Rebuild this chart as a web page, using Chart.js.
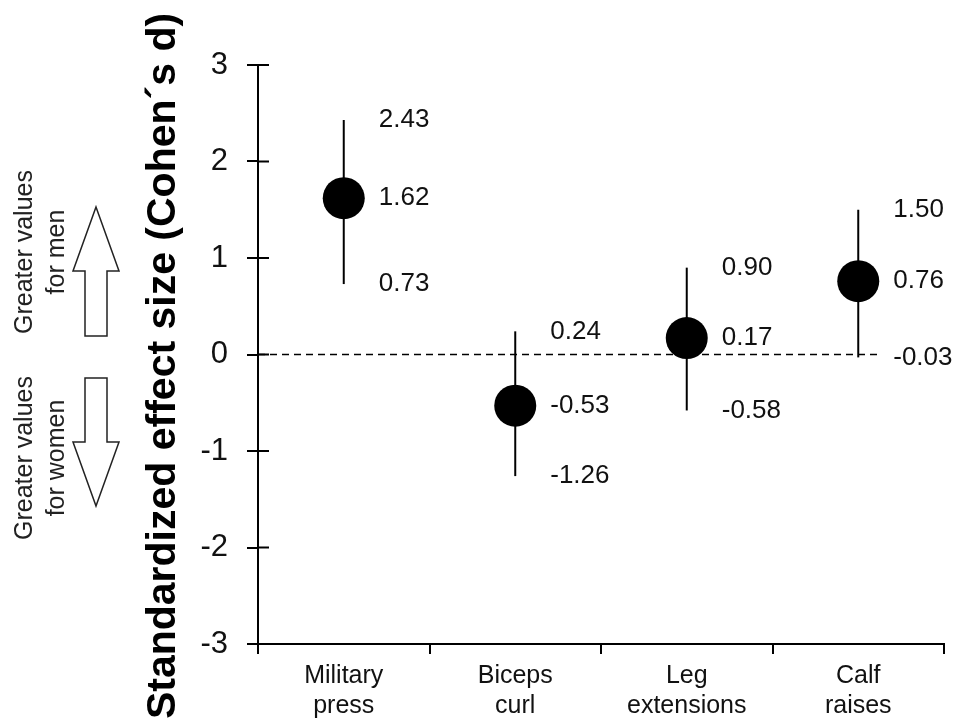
<!DOCTYPE html>
<html>
<head>
<meta charset="utf-8">
<script src="https://cdn.jsdelivr.net/npm/chart.js@4"></script>
<style>
  body { margin: 0; background: #fff; }
  #wrap { width: 965px; height: 727px; position: relative; }
</style>
</head>
<body>
<div id="wrap"><canvas id="effectChart"></canvas></div>
<script>
// exercise names (two lines each)
const categories = [['Military', 'press'], ['Biceps', 'curl'], ['Leg', 'extensions'], ['Calf', 'raises']];
// Cohen's d and its confidence limits
const effectSize = [1.62, -0.53, 0.17, 0.76];
const lowerLimit = [0.73, -1.26, -0.58, -0.03];
const upperLimit = [2.43, 0.24, 0.90, 1.50];
// y axis ticks
const yTicks = [-3, -2, -1, 0, 1, 2, 3];

const fontFamily = '"Liberation Sans", Arial, sans-serif';

// draws error bars, zero line, value labels and the side notes
const decorations = {
  id: 'decorations',
  beforeDatasetsDraw(chart) {
    const ctx = chart.ctx;
    const x = chart.scales.x;
    const y = chart.scales.y;
    const area = chart.chartArea;

    // dashed zero line, up to the last point
    const lastX = x.getPixelForValue(categories.length - 1) + 21;
    ctx.save();
    ctx.strokeStyle = '#000';
    ctx.lineWidth = 1.5;
    ctx.setLineDash([7, 5]);
    ctx.beginPath();
    ctx.moveTo(area.left, y.getPixelForValue(0));
    ctx.lineTo(lastX, y.getPixelForValue(0));
    ctx.stroke();
    ctx.restore();

    // error bars
    ctx.save();
    ctx.strokeStyle = '#000';
    ctx.lineWidth = 2;
    effectSize.forEach((v, i) => {
      const px = x.getPixelForValue(i);
      ctx.beginPath();
      ctx.moveTo(px, y.getPixelForValue(upperLimit[i]));
      ctx.lineTo(px, y.getPixelForValue(lowerLimit[i]));
      ctx.stroke();
    });
    ctx.restore();

    // inner half of the y ticks
    ctx.save();
    ctx.strokeStyle = '#000';
    ctx.lineWidth = 2;
    yTicks.forEach((t) => {
      const py = y.getPixelForValue(t);
      ctx.beginPath();
      ctx.moveTo(area.left, py);
      ctx.lineTo(area.left + 11, py);
      ctx.stroke();
    });
    ctx.restore();
  },
  afterDatasetsDraw(chart) {
    const ctx = chart.ctx;
    const x = chart.scales.x;
    const y = chart.scales.y;

    // value labels beside each point
    ctx.save();
    ctx.fillStyle = '#111';
    ctx.font = '26px ' + fontFamily;
    ctx.textAlign = 'left';
    ctx.textBaseline = 'middle';
    effectSize.forEach((v, i) => {
      const px = x.getPixelForValue(i) + 35;
      [upperLimit[i], v, lowerLimit[i]].forEach((val) => {
        ctx.fillText(val.toFixed(2), px, y.getPixelForValue(val));
      });
    });
    ctx.restore();

    // y axis title
    ctx.save();
    ctx.translate(164, 366);
    ctx.rotate(-Math.PI / 2);
    ctx.fillStyle = '#000';
    ctx.font = 'bold 41px ' + fontFamily;
    ctx.textAlign = 'center';
    ctx.textBaseline = 'middle';
    ctx.fillText('Standardized effect size (Cohen\u00b4s d)', 0, 0);
    ctx.restore();

    // side notes
    ctx.save();
    ctx.fillStyle = '#222';
    ctx.font = '25px ' + fontFamily;
    ctx.textAlign = 'center';
    ctx.textBaseline = 'middle';
    [[252, 'for men'], [458, 'for women']].forEach(([cy, second]) => {
      ctx.save();
      ctx.translate(0, cy);
      ctx.rotate(-Math.PI / 2);
      ctx.fillText('Greater values', 0, 25);
      ctx.fillText(second, 0, 57);
      ctx.restore();
    });
    ctx.restore();

    // arrows
    ctx.save();
    ctx.strokeStyle = '#222';
    ctx.fillStyle = '#fff';
    ctx.lineWidth = 1.5;
    ctx.beginPath();
    ctx.moveTo(96, 207);
    ctx.lineTo(119, 271);
    ctx.lineTo(107, 271);
    ctx.lineTo(107, 336);
    ctx.lineTo(85, 336);
    ctx.lineTo(85, 271);
    ctx.lineTo(73, 271);
    ctx.closePath();
    ctx.fill();
    ctx.stroke();
    ctx.beginPath();
    ctx.moveTo(85, 378);
    ctx.lineTo(107, 378);
    ctx.lineTo(107, 442);
    ctx.lineTo(119, 442);
    ctx.lineTo(96, 506);
    ctx.lineTo(73, 442);
    ctx.lineTo(85, 442);
    ctx.closePath();
    ctx.fill();
    ctx.stroke();
    ctx.restore();
  }
};

const chartCtx = document.getElementById('effectChart').getContext('2d');

const effectChart = new Chart(chartCtx, {
  type: 'line',
  data: {
    labels: categories,
    datasets: [{
      label: 'Cohen\u00b4s d',
      data: effectSize,
      showLine: false,
      pointRadius: 21,
      pointHoverRadius: 21,
      pointBackgroundColor: '#000',
      pointBorderColor: '#000',
      pointBorderWidth: 0
    }]
  },
  options: {
    responsive: true,
    maintainAspectRatio: false,
    animation: false,
    events: [],
    layout: {
      padding: { left: 0, top: 65, right: 10, bottom: 0 }
    },
    plugins: {
      legend: { display: false },
      tooltip: { enabled: false }
    },
    scales: {
      x: {
        type: 'category',
        offset: true,
        afterFit: (scale) => { scale.height = 83; },
        border: { display: true, color: '#000', width: 2 },
        grid: {
          offset: true,
          drawOnChartArea: false,
          drawTicks: true,
          tickLength: 10,
          color: '#000',
          lineWidth: 2
        },
        ticks: {
          color: '#111',
          padding: 7,
          maxRotation: 0,
          font: { family: fontFamily, size: 25, lineHeight: 1.2 }
        }
      },
      y: {
        min: -3,
        max: 3,
        afterFit: (scale) => { scale.width = 258; },
        afterBuildTicks: (scale) => {
          scale.ticks = yTicks.map((v) => ({ value: v }));
        },
        border: { display: true, color: '#000', width: 2 },
        grid: {
          drawOnChartArea: false,
          drawTicks: true,
          tickLength: 11,
          color: '#000',
          lineWidth: 2
        },
        ticks: {
          color: '#111',
          padding: 19,
          font: { family: fontFamily, size: 31 }
        }
      }
    }
  },
  plugins: [decorations]
});
</script>
</body>
</html>
